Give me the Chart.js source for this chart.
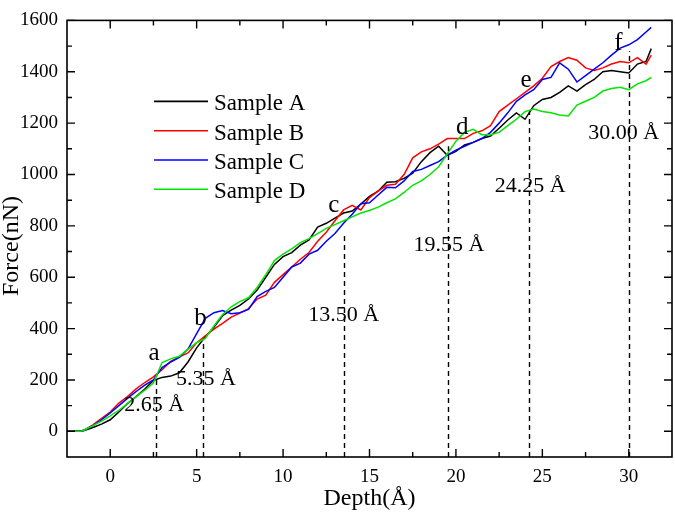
<!DOCTYPE html>
<html><head><meta charset="utf-8">
<script src="https://cdn.jsdelivr.net/npm/chart.js@4.4.1/dist/chart.umd.min.js"></script>
<style>html,body{margin:0;padding:0;background:#fff;}#wrap{width:675px;height:512px;}</style>
</head><body><div id="wrap"><canvas id="c" width="675" height="512"></canvas></div>
<script>
// ---- data ----
const depth = [-2.5,-2,-1.7,-1.5,-1,-0.5,0,0.5,1,1.5,2,2.5,3,3.5,4,4.5,5,5.5,6,6.5,7,7.5,8,8.5,9,9.5,10,10.5,11,11.5,12,12.5,13,13.5,14,14.5,15,15.5,16,16.5,17,17.5,18,18.5,19,19.5,20,20.5,21,21.5,22,22.5,23,23.5,24,24.5,25,25.5,26,26.5,27,27.5,28,28.5,29,29.5,30,30.5,31,31.3];
const sampleA = [0,0,0,3,15,28,45,75,108,135,165,198,210,215,228,270,325,368,405,450,472,490,515,550,600,650,680,696,725,745,795,810,830,850,858,885,915,935,970,972,985,1005,1050,1085,1110,1075,1090,1115,1125,1140,1150,1180,1212,1240,1215,1268,1292,1300,1320,1345,1325,1350,1370,1400,1405,1400,1395,1430,1440,1490];
const sampleB = [0,0,0,5,25,50,75,110,135,165,190,212,240,272,290,305,345,372,398,420,445,460,478,515,530,580,610,640,670,696,740,775,820,862,880,862,910,935,958,962,1000,1065,1088,1100,1118,1140,1140,1140,1160,1170,1190,1245,1270,1295,1320,1345,1375,1420,1440,1455,1445,1415,1405,1415,1430,1440,1435,1455,1430,1465];
const sampleC = [0,0,0,5,22,45,72,100,128,155,180,200,248,270,288,320,380,440,462,470,458,462,475,525,545,560,600,640,655,690,705,740,770,810,845,886,890,920,950,948,975,1012,1020,1035,1050,1075,1095,1110,1125,1140,1164,1200,1240,1285,1310,1330,1370,1378,1435,1410,1360,1385,1410,1435,1465,1492,1505,1525,1555,1573];
const sampleD = [0,0,0,5,22,40,60,82,108,135,160,188,268,282,292,320,345,362,410,455,485,505,520,560,610,665,690,710,735,750,770,790,805,820,835,850,860,873,890,905,930,958,975,1000,1030,1080,1130,1164,1176,1155,1155,1164,1190,1215,1245,1255,1245,1240,1232,1228,1270,1285,1300,1325,1335,1340,1330,1353,1365,1378];
const seriesNames = ['Sample A','Sample B','Sample C','Sample D'];
const xTicks = [0,5,10,15,20,25,30];
const xMinorTicks = [2.5,7.5,12.5,17.5,22.5,27.5];
const yTicks = [0,200,400,600,800,1000,1200,1400,1600];
const yMinorTicks = [100,300,500,700,900,1100,1300,1500];
const markerDepths = [2.65,5.35,13.50,19.55,24.25,30.00];
const markerTops = [205,342,770,1110,1245,1480];
const markerLabels = ['2.65 Å','5.35 Å','13.50 Å','19.55 Å','24.25 Å','30.00 Å'];
const markerLetters = ['a','b','c','d','e','f'];

// ---- layout / style ----
const colors = ['#000000','#ff0000','#0000ff','#00e600'];
const labelPos = [[2.54,78],[5.54,179],[13.5,431],[19.6,703],[24.3,930],[29.7,1138]];
const letterPos = [[2.54,276],[5.23,415],[12.93,854],[20.37,1157],[24.06,1340],[29.4,1485]];
const FAM = '"Liberation Serif","Times New Roman",serif';

const datasets = [sampleA,sampleB,sampleC,sampleD].map((arr,i)=>({
  label: seriesNames[i],
  data: depth.map((d,k)=>({x:d,y:arr[k]})),
  borderColor: colors[i], backgroundColor: colors[i],
  borderWidth: 1.5, pointRadius: 0, showLine: true, tension: 0,
  order: 4 - i
}));

const deco = {
  id:'deco',
  afterDatasetsDraw(chart){
    const {ctx, chartArea:a, scales:{x,y}} = chart;
    ctx.save();
    ctx.strokeStyle='#000'; ctx.fillStyle='#000';
    // dashed marker lines
    ctx.lineWidth=1.4; ctx.setLineDash([5,4]);
    markerDepths.forEach((d,i)=>{
      const px=Math.round(x.getPixelForValue(d))+0.5;
      ctx.beginPath(); ctx.moveTo(px,a.bottom); ctx.lineTo(px,y.getPixelForValue(markerTops[i])); ctx.stroke();
    });
    ctx.setLineDash([]);
    // frame
    ctx.lineWidth=1.6;
    ctx.strokeRect(a.left,a.top,a.right-a.left,a.bottom-a.top);
    // inward ticks
    ctx.lineWidth=1.4;
    const tx=(v,len)=>{const px=x.getPixelForValue(v);ctx.beginPath();ctx.moveTo(px,a.bottom);ctx.lineTo(px,a.bottom-len);ctx.moveTo(px,a.top);ctx.lineTo(px,a.top+len);ctx.stroke();};
    const ty=(v,len)=>{const py=y.getPixelForValue(v);ctx.beginPath();ctx.moveTo(a.left,py);ctx.lineTo(a.left+len,py);ctx.moveTo(a.right,py);ctx.lineTo(a.right-len,py);ctx.stroke();};
    xTicks.forEach(v=>tx(v,8)); xMinorTicks.forEach(v=>tx(v,5));
    yTicks.forEach(v=>ty(v,8)); yMinorTicks.forEach(v=>ty(v,5));
    // annotation texts
    ctx.textAlign='center'; ctx.textBaseline='alphabetic';
    ctx.font='22px '+FAM;
    markerLabels.forEach((t,i)=>ctx.fillText(t,x.getPixelForValue(labelPos[i][0]),y.getPixelForValue(labelPos[i][1])));
    ctx.font='25px '+FAM;
    markerLetters.forEach((t,i)=>ctx.fillText(t,x.getPixelForValue(letterPos[i][0]),y.getPixelForValue(letterPos[i][1])));
    // legend
    ctx.textAlign='left'; ctx.font='23px '+FAM;
    seriesNames.forEach((n,i)=>{
      const ly=a.top+81+i*29.3;
      ctx.strokeStyle=colors[i]; ctx.lineWidth=1.6;
      ctx.beginPath(); ctx.moveTo(a.left+87,ly); ctx.lineTo(a.left+141,ly); ctx.stroke();
      ctx.fillStyle='#000'; ctx.fillText(n,a.left+147,ly+9);
    });
    // axis titles
    ctx.font='24px '+FAM; ctx.textAlign='center';
    ctx.fillText('Depth(Å)',(a.left+a.right)/2,505);
    ctx.translate(18,246); ctx.rotate(-Math.PI/2);
    ctx.fillText('Force(nN)',0,0);
    ctx.restore();
  }
};

new Chart(document.getElementById('c'),{
  type:'scatter',
  data:{datasets},
  options:{
    responsive:false, animation:false,
    layout:{padding:{top:8,right:3,left:0,bottom:0}},
    plugins:{legend:{display:false},tooltip:{enabled:false}},
    scales:{
      x:{type:'linear',min:-2.5,max:32.5,
        afterBuildTicks:s=>{s.ticks=xTicks.map(v=>({value:v}));},
        afterFit:s=>{s.height=55;},
        grid:{display:false,drawTicks:false},border:{display:false},
        ticks:{font:{family:FAM,size:19},color:'#000',padding:9,maxRotation:0,autoSkip:false,callback:v=>String(v)}},
      y:{type:'linear',min:-100,max:1600,
        afterBuildTicks:s=>{s.ticks=yTicks.map(v=>({value:v}));},
        afterFit:s=>{s.width=67;},
        grid:{display:false,drawTicks:false},border:{display:false},
        ticks:{font:{family:FAM,size:19},color:'#000',padding:9,autoSkip:false,callback:v=>String(v)}}
    }
  },
  plugins:[deco]
});
</script></body></html>
